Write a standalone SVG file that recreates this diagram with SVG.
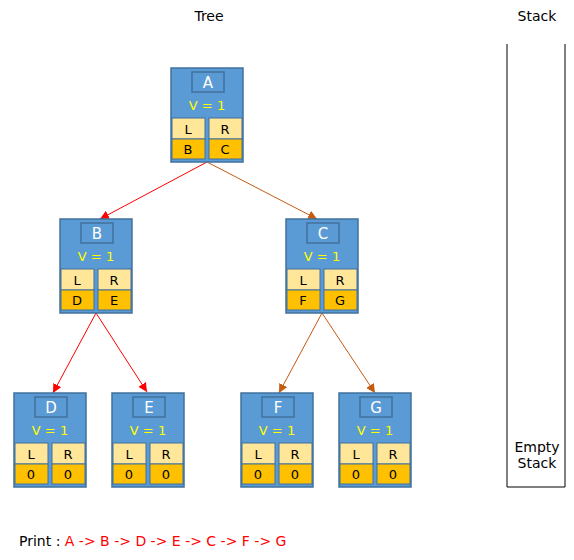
<svg xmlns="http://www.w3.org/2000/svg" width="574" height="560" viewBox="0 0 574 560">
<defs>
<style>
text{font-family:"DejaVu Sans","Verdana",sans-serif;}
.node{fill:#5B9BD5;stroke:#41719C;stroke-width:1.5;}
.lbl{fill:#5B9BD5;stroke:#41719C;stroke-width:1.5;}
.top{fill:#FFE699;stroke:#41719C;stroke-width:1;}
.bot{fill:#FFC000;stroke:#41719C;stroke-width:1;}
.name{fill:#FFFFFF;font-size:15px;text-anchor:middle;}
.v{fill:#FFFF00;font-size:13px;text-anchor:middle;}
.c{fill:#000000;font-size:13px;text-anchor:middle;}
.title{fill:#000000;font-size:14px;text-anchor:middle;}
.red{stroke:#FF0000;stroke-width:1;fill:none;}
.brn{stroke:#C55A11;stroke-width:1;fill:none;}
</style>
<marker id="ar" viewBox="0 0 10 10" refX="10" refY="5" markerWidth="9" markerHeight="9" markerUnits="userSpaceOnUse" orient="auto"><path d="M0,0 L10,5 L0,10 z" fill="#FF0000"/></marker>
<marker id="ab" viewBox="0 0 10 10" refX="10" refY="5" markerWidth="9" markerHeight="9" markerUnits="userSpaceOnUse" orient="auto"><path d="M0,0 L10,5 L0,10 z" fill="#C55A11"/></marker>
</defs>
<rect width="574" height="560" fill="#FFFFFF"/>
<text class="title" x="209" y="21">Tree</text>
<text class="title" x="537" y="21">Stack</text>
<g id="stack">
<path d="M507,44 V487 H565 V44" fill="none" stroke="#000000" stroke-width="1"/>
<text class="title" x="537" y="452">Empty</text>
<text class="title" x="537" y="468">Stack</text>
</g>
<g id="connectors">
<line class="red" x1="207" y1="162" x2="100" y2="219" marker-end="url(#ar)"/>
<line class="brn" x1="207" y1="162" x2="317" y2="219" marker-end="url(#ab)"/>
<line class="red" x1="96" y1="313" x2="53" y2="393" marker-end="url(#ar)"/>
<line class="red" x1="96" y1="313" x2="147" y2="392" marker-end="url(#ar)"/>
<line class="brn" x1="322" y1="313" x2="279" y2="393" marker-end="url(#ab)"/>
<line class="brn" x1="322" y1="313" x2="375" y2="393" marker-end="url(#ab)"/>
</g>
<g id="nodeA" transform="translate(171,68)">
<rect class="node" x="0" y="0" width="72" height="94"/>
<rect class="lbl" x="21" y="4" width="32" height="20"/>
<text class="name" x="37" y="19.5">A</text>
<text class="v" x="36" y="42">V = 1</text>
<rect class="top" x="1" y="50" width="33" height="21"/><rect class="bot" x="1" y="71" width="33" height="20"/>
<rect class="top" x="38" y="50" width="33" height="21"/><rect class="bot" x="38" y="71" width="33" height="20"/>
<text class="c" x="17" y="65.5">L</text><text class="c" x="54" y="65.5">R</text>
<text class="c" x="17" y="85.5">B</text><text class="c" x="54" y="85.5">C</text>
</g>
<g id="nodeB" transform="translate(60,219)">
<rect class="node" x="0" y="0" width="72" height="94"/>
<rect class="lbl" x="21" y="4" width="32" height="20"/>
<text class="name" x="37" y="19.5">B</text>
<text class="v" x="36" y="42">V = 1</text>
<rect class="top" x="1" y="50" width="33" height="21"/><rect class="bot" x="1" y="71" width="33" height="20"/>
<rect class="top" x="38" y="50" width="33" height="21"/><rect class="bot" x="38" y="71" width="33" height="20"/>
<text class="c" x="17" y="65.5">L</text><text class="c" x="54" y="65.5">R</text>
<text class="c" x="17" y="85.5">D</text><text class="c" x="54" y="85.5">E</text>
</g>
<g id="nodeC" transform="translate(286,219)">
<rect class="node" x="0" y="0" width="72" height="94"/>
<rect class="lbl" x="21" y="4" width="32" height="20"/>
<text class="name" x="37" y="19.5">C</text>
<text class="v" x="36" y="42">V = 1</text>
<rect class="top" x="1" y="50" width="33" height="21"/><rect class="bot" x="1" y="71" width="33" height="20"/>
<rect class="top" x="38" y="50" width="33" height="21"/><rect class="bot" x="38" y="71" width="33" height="20"/>
<text class="c" x="17" y="65.5">L</text><text class="c" x="54" y="65.5">R</text>
<text class="c" x="17" y="85.5">F</text><text class="c" x="54" y="85.5">G</text>
</g>
<g id="nodeD" transform="translate(14,393)">
<rect class="node" x="0" y="0" width="72" height="94"/>
<rect class="lbl" x="21" y="4" width="32" height="20"/>
<text class="name" x="37" y="19.5">D</text>
<text class="v" x="36" y="42">V = 1</text>
<rect class="top" x="1" y="50" width="33" height="21"/><rect class="bot" x="1" y="71" width="33" height="20"/>
<rect class="top" x="38" y="50" width="33" height="21"/><rect class="bot" x="38" y="71" width="33" height="20"/>
<text class="c" x="17" y="65.5">L</text><text class="c" x="54" y="65.5">R</text>
<text class="c" x="17" y="85.5">0</text><text class="c" x="54" y="85.5">0</text>
</g>
<g id="nodeE" transform="translate(112,393)">
<rect class="node" x="0" y="0" width="72" height="94"/>
<rect class="lbl" x="21" y="4" width="32" height="20"/>
<text class="name" x="37" y="19.5">E</text>
<text class="v" x="36" y="42">V = 1</text>
<rect class="top" x="1" y="50" width="33" height="21"/><rect class="bot" x="1" y="71" width="33" height="20"/>
<rect class="top" x="38" y="50" width="33" height="21"/><rect class="bot" x="38" y="71" width="33" height="20"/>
<text class="c" x="17" y="65.5">L</text><text class="c" x="54" y="65.5">R</text>
<text class="c" x="17" y="85.5">0</text><text class="c" x="54" y="85.5">0</text>
</g>
<g id="nodeF" transform="translate(241,393)">
<rect class="node" x="0" y="0" width="72" height="94"/>
<rect class="lbl" x="21" y="4" width="32" height="20"/>
<text class="name" x="37" y="19.5">F</text>
<text class="v" x="36" y="42">V = 1</text>
<rect class="top" x="1" y="50" width="33" height="21"/><rect class="bot" x="1" y="71" width="33" height="20"/>
<rect class="top" x="38" y="50" width="33" height="21"/><rect class="bot" x="38" y="71" width="33" height="20"/>
<text class="c" x="17" y="65.5">L</text><text class="c" x="54" y="65.5">R</text>
<text class="c" x="17" y="85.5">0</text><text class="c" x="54" y="85.5">0</text>
</g>
<g id="nodeG" transform="translate(339,393)">
<rect class="node" x="0" y="0" width="72" height="94"/>
<rect class="lbl" x="21" y="4" width="32" height="20"/>
<text class="name" x="37" y="19.5">G</text>
<text class="v" x="36" y="42">V = 1</text>
<rect class="top" x="1" y="50" width="33" height="21"/><rect class="bot" x="1" y="71" width="33" height="20"/>
<rect class="top" x="38" y="50" width="33" height="21"/><rect class="bot" x="38" y="71" width="33" height="20"/>
<text class="c" x="17" y="65.5">L</text><text class="c" x="54" y="65.5">R</text>
<text class="c" x="17" y="85.5">0</text><text class="c" x="54" y="85.5">0</text>
</g>
<text x="19" y="546" style="font-size:14px"><tspan fill="#000000">Print : </tspan><tspan fill="#FF0000">A -&gt; B -&gt; D -&gt; E -&gt; C -&gt; F -&gt; G</tspan></text>
</svg>
